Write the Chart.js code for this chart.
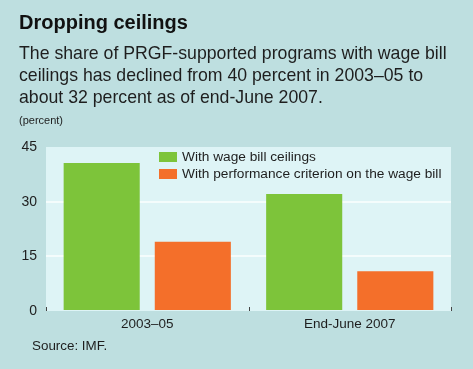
<!DOCTYPE html>
<html>
<head>
<meta charset="utf-8">
<script src="https://cdn.jsdelivr.net/npm/chart.js@4"></script>
<style>
    body { margin: 0; }
    .wrap { position: relative; width: 473px; height: 369px; background: #bedfe0; overflow: hidden; font-family: "Liberation Sans", Arial, sans-serif; color: #1e1e1e; }
    .wrap canvas { position: absolute; left: 0; top: 0; }
    .title { position: absolute; left: 19px; top: 12px; font-size: 20px; line-height: 20px; font-weight: bold; color: #111; }
    .sub { position: absolute; left: 19px; top: 42px; font-size: 17.7px; line-height: 22px; }
    .unit { position: absolute; left: 19px; top: 115px; font-size: 11px; line-height: 11px; }
    .source { position: absolute; left: 32px; top: 339px; font-size: 13.4px; line-height: 13px; }
</style>
</head>
<body>
<div class="wrap">
    <canvas id="chart" width="473" height="369"></canvas>
    <div class="title">Dropping ceilings</div>
    <div class="sub">The share of PRGF-supported programs with wage bill<br>ceilings has declined from 40 percent in 2003–05 to<br>about 32 percent as of end-June 2007.</div>
    <div class="unit">(percent)</div>
    <div class="source">Source: IMF.</div>
</div>
<script>
const categories = ['2003–05', 'End-June 2007'];
const seriesNames = ['With wage bill ceilings', 'With performance criterion on the wage bill'];
const wageCeilings = [40.6, 32.1];
const performanceCriterion = [19.0, 10.9];
const yTicks = [0, 15, 30, 45];

const plotBackground = {
    id: 'plotBackground',
    beforeDraw(chart) {
        const ctx = chart.ctx;
        const a = chart.chartArea;
        ctx.save();
        ctx.fillStyle = '#def4f6';
        ctx.fillRect(a.left, a.top, a.right - a.left, a.bottom - a.top);
        ctx.restore();
    },
    afterDatasetsDraw(chart) {
        // small tick marks above the baseline, at the edges and between categories
        const ctx = chart.ctx;
        const a = chart.chartArea;
        const xs = chart.scales.x;
        const step = (a.right - a.left) / categories.length;
        ctx.save();
        ctx.strokeStyle = '#444';
        ctx.lineWidth = 1;
        for (let i = 0; i <= categories.length; i++) {
            const x = Math.round(xs.left + step * i) + 0.5;
            ctx.beginPath();
            ctx.moveTo(x, a.bottom - 4);
            ctx.lineTo(x, a.bottom);
            ctx.stroke();
        }
        ctx.restore();
    }
};

const insideLegend = {
    id: 'insideLegend',
    afterDraw(chart) {
        const ctx = chart.ctx;
        const a = chart.chartArea;
        ctx.save();
        ctx.font = '13.7px "Liberation Sans", Arial, sans-serif';
        ctx.textBaseline = 'middle';
        chart.data.datasets.forEach(function (ds, i) {
            const x = a.left + 113;
            const y = a.top + 5 + i * 17;
            ctx.fillStyle = ds.backgroundColor;
            ctx.fillRect(x, y, 18, 10);
            ctx.fillStyle = '#1e1e1e';
            ctx.fillText(ds.label, x + 23, y + 5);
        });
        ctx.restore();
    }
};

new Chart(document.getElementById('chart'), {
    type: 'bar',
    data: {
        labels: categories,
        datasets: [{
            label: seriesNames[0],
            data: wageCeilings,
            backgroundColor: '#7dc43a',
            barPercentage: 0.835,
            categoryPercentage: 0.9
        }, {
            label: seriesNames[1],
            data: performanceCriterion,
            backgroundColor: '#f46f2a',
            barPercentage: 0.835,
            categoryPercentage: 0.9
        }]
    },
    options: {
        responsive: false,
        animation: false,
        layout: { padding: { top: 147, right: 22, left: 0, bottom: 0 } },
        plugins: {
            legend: { display: false },
            tooltip: { enabled: false }
        },
        scales: {
            x: {
                grid: { display: false, drawTicks: false },
                border: { display: false },
                ticks: { color: '#1e1e1e', padding: 5, font: { family: '"Liberation Sans", Arial, sans-serif', size: 13.5 } },
                afterFit(scale) { scale.height = 58; }
            },
            y: {
                min: 0,
                max: 45,
                afterBuildTicks(scale) { scale.ticks = yTicks.map(v => ({ value: v })); },
                grid: {
                    drawTicks: false,
                    lineWidth: 2,
                    color: ctx => (ctx.tick.value === 15 || ctx.tick.value === 30) ? '#f4fcfc' : 'rgba(0,0,0,0)'
                },
                border: { display: false },
                ticks: { color: '#1e1e1e', padding: 9, font: { family: '"Liberation Sans", Arial, sans-serif', size: 14 } },
                afterFit(scale) { scale.width = 46; }
            }
        }
    },
    plugins: [plotBackground, insideLegend]
});
</script>
</body>
</html>
